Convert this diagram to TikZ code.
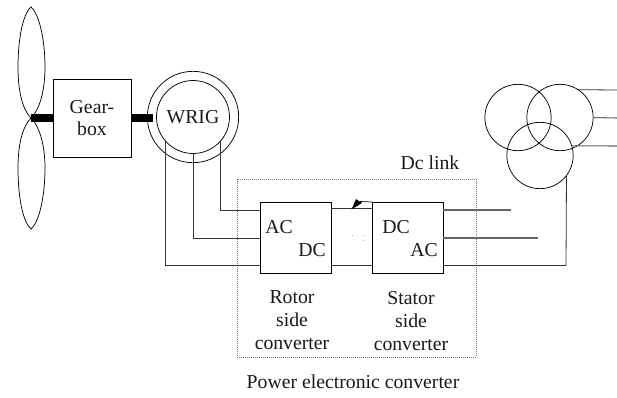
\documentclass[tikz,border=0pt]{standalone}
\usepackage{fontspec}
\setmainfont{Liberation Serif}
\tikzset{
 boxn/.style={rectangle,draw=black,line width=0.6pt,fill=white,inner sep=0pt,outer sep=0pt},
 wire/.style={draw=black!80,line width=0.6pt},
 wirefaint/.style={draw=black!60,line width=0.8pt},
 outline/.style={draw=black,line width=0.55pt},
 shaft/.style={draw=black,line width=6pt},
 dotbox/.style={draw=black!55,line width=0.5pt,densely dotted},
 lab/.style={font=\fontsize{14.8pt}{17pt}\selectfont,align=center,inner sep=0pt,text=black!90},
 circ/.style={circle,draw=black,line width=0.55pt,inner sep=0pt,outer sep=0pt},
 speck/.style={fill=black!35},
}
\begin{document}
\begin{tikzpicture}[x=0.75pt,y=-0.75pt]
\useasboundingbox (0,0) rectangle (617,397);
\fill[white] (0,0) rectangle (617,397);
% dotted enclosure
\node[dotbox,rectangle,minimum width=179.25pt,minimum height=133.5pt,inner sep=0pt,outer sep=0pt] (pec) at (356.5,268) {};
% blades
\coordinate (hub) at (31,118);
\draw[outline] (hub) .. controls (22,109) and (18,90) .. (18,67) .. controls (18,42) and (22,15) .. (31,7) .. controls (40,15) and (45,42) .. (45,67) .. controls (45,90) and (40,109) .. (hub);
\draw[outline] (hub) .. controls (22,127) and (18,146) .. (18,168) .. controls (18,194) and (22,221) .. (31,229) .. controls (40,221) and (45,194) .. (45,168) .. controls (45,146) and (40,127) .. (hub);
% gearbox and generator
\node[boxn,minimum width=58.5pt,minimum height=58.5pt,lab] (gear) at (92,118) {Gear-\\box};
\node[circ,minimum width=68.5pt] (outer) at (193,117) {};
\node[circ,minimum width=54.75pt,lab] (wrig) at (193,117) {WRIG};
\draw[shaft] (hub) -- (gear.west |- hub);
\draw[shaft] (gear.east |- hub) -- (153,118);
% converter boxes
\node[boxn,minimum width=53.25pt,minimum height=53.25pt] (rsc) at (295.5,237.5) {};
\node[boxn,minimum width=53.25pt,minimum height=53.25pt] (ssc) at (407.5,237.5) {};
\node[lab] (ac1) at (279,227) {AC};
\node[lab] (dc1) at (312,250) {DC};
\node[lab] (dc2) at (396,227) {DC};
\node[lab] (ac2) at (424,250) {AC};
% rotor wires
\coordinate (r1) at (260,210);
\coordinate (r2) at (260,238);
\coordinate (r3) at (260,265);
\draw[wire] (wrig.-42) |- (r1);
\draw[wire] (wrig.south) |- (r2);
\draw[wire] (wrig.-140) |- (r3);
% dc link
\draw[wire] (rsc.east |- 0,208) -- (ssc.west |- 0,208);
\draw[wire] (rsc.east |- r3) -- (ssc.west |- r3);
\fill[black] (351.5,209.5) -- (356,199) -- (362,203) -- cycle;
\draw[outline] (360,201.5) -- (ssc.north west);
\fill[speck] (351.5,234.5) rectangle (352.5,235.5);
\fill[speck] (362.5,234.5) rectangle (363.5,235.5);
\fill[speck] (362.5,239.5) rectangle (363.5,240.5);
% transformer
\node[circ,minimum width=49.75pt] (t1) at (518,117.5) {};
\node[circ,minimum width=49.75pt] (t2) at (560,117.5) {};
\node[circ,minimum width=49.75pt] (t3) at (540,155.5) {};
\coordinate (l1) at (617,90);
\coordinate (l2) at (617,118);
\coordinate (l3) at (617,146);
\draw[wire] (t2.57) -- (l1);
\draw[wirefaint] (t2.east) -- (l2);
\draw[wirefaint] (t3.17) -- (l3);
% stator wires
\coordinate (s1) at (511,210);
\coordinate (s2) at (538,238);
\coordinate (s3) at (566,265.5);
\draw[wirefaint] (ssc.east |- s1) -- (s1);
\draw[wirefaint] (ssc.east |- s2) -- (s2);
\draw[wire] (ssc.east |- s3) -- (s3) -- (t3.-37);
% labels
\node[lab] (dclink) at (430,163) {Dc link};
\node[lab] (rlab) at (292,320) {Rotor\\side\\converter};
\node[lab] (slab) at (411,321) {Stator\\side\\converter};
\node[lab] (plab) at (353,382) {Power electronic converter};
\end{tikzpicture}
\end{document}
